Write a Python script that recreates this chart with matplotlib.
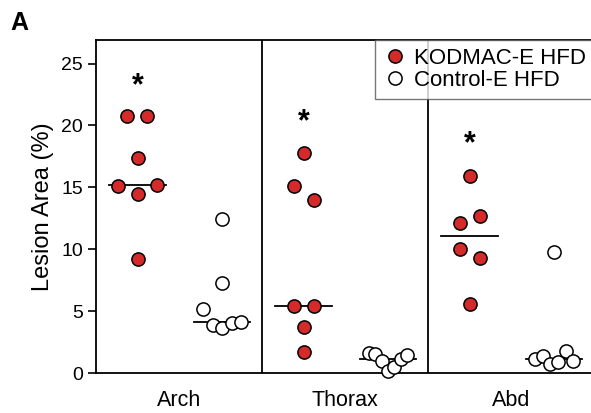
import numpy as np
import matplotlib
matplotlib.use("Agg")
import matplotlib.pyplot as plt
import matplotlib.transforms as mtransforms
from matplotlib.lines import Line2D

plt.rcParams['font.family'] = ['Liberation Sans', 'DejaVu Sans']

# Data (lesion area, %)
regions = ["Arch", "Thorax", "Abd"]
kodmac_arch = [20.8, 20.8, 17.4, 15.1, 14.5, 15.2, 9.2]
kodmac_thorax = [17.8, 15.1, 14.0, 5.4, 5.4, 3.7, 1.7]
kodmac_abd = [15.9, 12.1, 12.7, 10.0, 9.3, 5.6]
control_arch = [12.4, 7.3, 5.2, 3.9, 3.6, 4.0, 4.1]
control_thorax = [1.6, 1.5, 1.0, 0.15, 0.5, 1.15, 1.45]
control_abd = [9.8, 1.1, 1.4, 0.7, 0.9, 1.8, 1.0]
star_height = [23.7, 20.8, 19.0]

kodmac = [kodmac_arch, kodmac_thorax, kodmac_abd]
control = [control_arch, control_thorax, control_abd]


def dot_offsets(vals, unit_px, row_gap=1.3, max_w=38.0, step=20.0):
    # group close values into rows and spread each row symmetrically
    vals = np.asarray(vals)
    order = np.argsort(-vals, kind="stable")
    rows, cur = [], [order[0]]
    for a, b in zip(order[:-1], order[1:]):
        if vals[a] - vals[b] <= row_gap:
            cur.append(b)
        else:
            rows.append(cur)
            cur = [b]
    rows.append(cur)
    off = np.zeros(len(vals))
    for r in rows:
        r = sorted(r)
        n = len(r)
        if n == 1:
            continue
        sp = min(step, max_w / (n - 1))
        for i, idx in enumerate(r):
            off[idx] = (i - (n - 1) / 2) * sp / unit_px
    return off


fig = plt.figure(figsize=(5.91, 4.13), dpi=100)
ax = fig.add_axes([96 / 591, 1 - 373 / 413, 498 / 591, 333 / 413])
unit_px = 166.0

for i in range(3):
    for vals, pos, face in [(kodmac[i], i + 0.25, "#d42a2a"), (control[i], i + 0.76, "white")]:
        xs = pos + dot_offsets(vals, unit_px)
        med = np.median(vals)
        ax.plot([pos - 0.17, pos + 0.17], [med, med], color="black", lw=1.3, zorder=2)
        ax.plot(xs, vals, "o", ms=9.5, mfc=face, mec="black", mew=1.1,
                zorder=3, clip_on=False, ls="none")

star_tr = mtransforms.offset_copy(ax.transData, fig=fig, y=-5, units="points")
for i in range(3):
    ax.text(i + 0.25, star_height[i], "*", ha="center", va="center",
            fontsize=22, fontweight="bold", transform=star_tr)

for d in [1, 2]:
    ax.axvline(d, color="black", lw=1.3)

ax.set_xlim(0, 3)
ax.set_ylim(0, 26.9)
ax.set_yticks([0, 5, 10, 15, 20, 25])
ax.set_xticks([0.5, 1.5, 2.5])
ax.set_xticklabels(regions, fontsize=15.5)
ax.tick_params(axis="x", length=0, pad=12)
ax.tick_params(axis="y", labelsize=14, length=6, width=1.2, direction="out")
for s in ax.spines.values():
    s.set_linewidth(1.3)
ax.set_ylabel("Lesion Area (%)", fontsize=17, labelpad=5)

handles = [
    Line2D([], [], marker="o", ls="none", ms=9.5, mfc="#d42a2a", mec="black", mew=1.1),
    Line2D([], [], marker="o", ls="none", ms=9.5, mfc="white", mec="black", mew=1.1),
]
leg = ax.legend(handles, ["KODMAC-E HFD", "Control-E HFD"], loc="upper right",
                bbox_to_anchor=(1.0, 1.0), borderaxespad=0, fontsize=16,
                frameon=True, fancybox=False, handletextpad=0.3, labelspacing=0.05,
                borderpad=0.35, handlelength=1.1)
leg.get_frame().set_edgecolor("#555555")
leg.get_frame().set_linewidth(1.0)

fig.text(10 / 591, 1 - 30 / 413, "A", fontsize=18, fontweight="bold")

fig.savefig("out.png", dpi=100)
